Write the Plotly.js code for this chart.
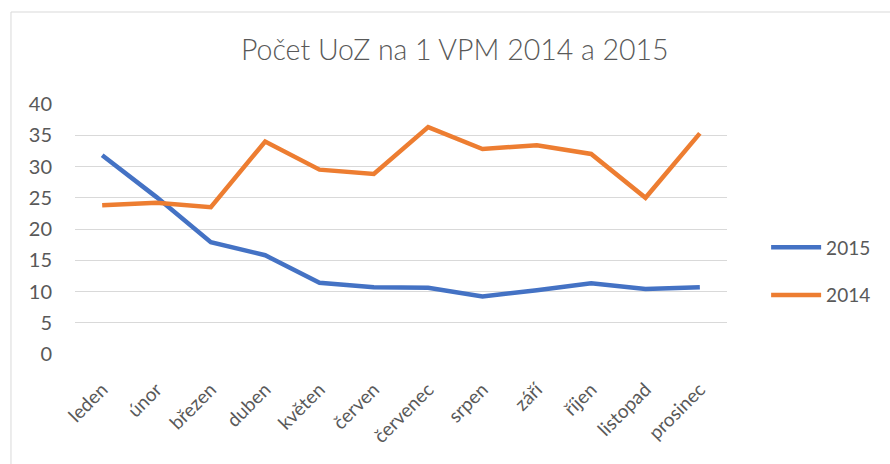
<!DOCTYPE html>
<html>
<head>
<meta charset="utf-8">
<script src="https://cdn.plot.ly/plotly-3.0.1.min.js"></script>
<style>html,body{margin:0;padding:0;background:#fff;}#chart{width:890px;height:464px;}</style>
</head>
<body>
<div id="chart"></div>
<script>
const months = ["leden","únor","březen","duben","květen","červen","červenec","srpen","září","říjen","listopad","prosinec"];
const values2015 = [31.8, 25.1, 17.9, 15.8, 11.4, 10.7, 10.6, 9.2, 10.2, 11.3, 10.4, 10.7];
const values2014 = [23.8, 24.2, 23.5, 34.0, 29.5, 28.8, 36.3, 32.8, 33.4, 32.0, 25.0, 35.3];
const yTicks = [0, 5, 10, 15, 20, 25, 30, 35, 40];

const textColor = "#595959";
const fontFam = "Lato, 'Open Sans', sans-serif";

const traces = [
  {x: months, y: values2015, name: "2015", type: "scatter", mode: "lines",
   line: {color: "#4472C4", width: 4.5}, legendgroup: "a"},
  {x: months, y: values2014, name: "2014", type: "scatter", mode: "lines",
   line: {color: "#ED7D31", width: 4.5}, legendgroup: "b"}
];

const layout = {
  width: 890, height: 464,
  margin: {l: 75, r: 163, t: 104, b: 110},
  paper_bgcolor: "#fff", plot_bgcolor: "#fff",
  font: {family: fontFam, color: textColor},
  title: {text: "Počet UoZ na 1 VPM 2014 a 2015", x: 0.511, xanchor: "center", y: 0.893, yanchor: "middle",
          font: {size: 28.5, color: textColor, family: fontFam, weight: 300}},
  xaxis: {type: "category", range: [-0.5, 11.5], showgrid: false, zeroline: false, showline: false,
          tickangle: -45, ticks: "outside", ticklen: 16, tickcolor: "rgba(0,0,0,0)",
          tickfont: {size: 19, color: textColor}},
  yaxis: {range: [0, 40], tickvals: yTicks, showgrid: true, gridcolor: "#d9d9d9", gridwidth: 1,
          zeroline: false, showline: false, ticks: "outside", ticklen: 18, tickcolor: "rgba(0,0,0,0)",
          tickfont: {size: 20, color: textColor}},
  showlegend: true,
  legend: {x: 1.06, y: 0.33, xanchor: "left", yanchor: "middle", tracegroupgap: 20,
           font: {size: 19, color: textColor}, itemwidth: 50},
  shapes: [{type: "rect", xref: "paper", yref: "paper", x0: -0.0982, x1: 1.6, y0: -1, y1: 1.368,
            line: {color: "#d9d9d9", width: 1}}]
};

Plotly.newPlot("chart", traces, layout, {displayModeBar: false, staticPlot: true});
</script>
</body>
</html>
